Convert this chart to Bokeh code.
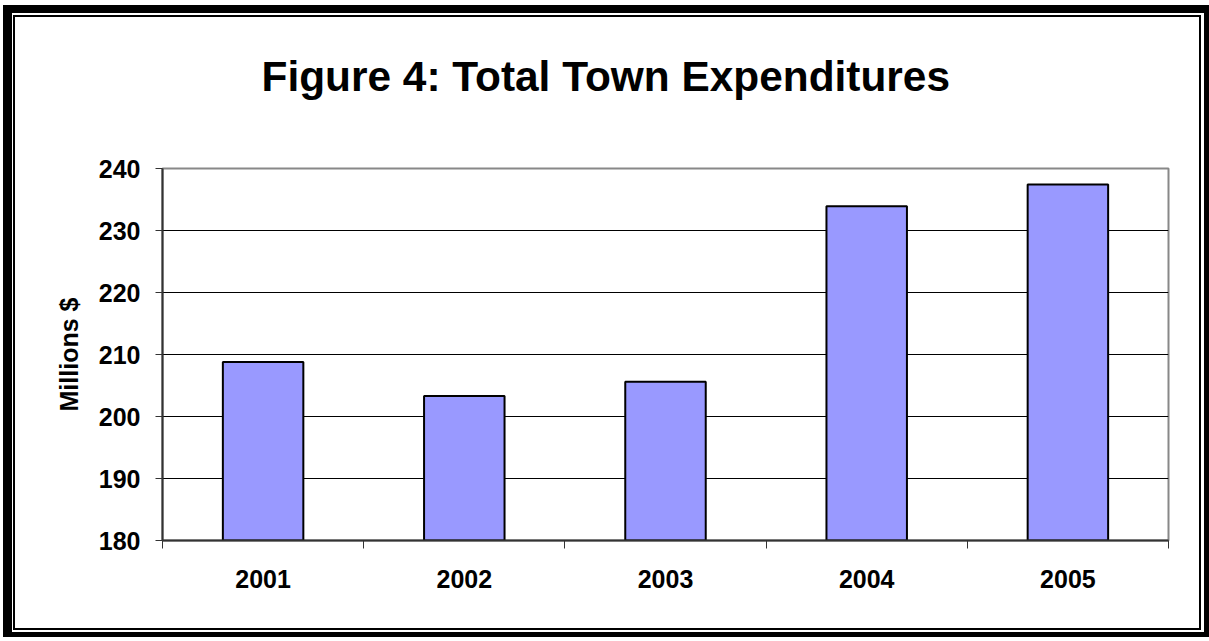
from bokeh.plotting import figure
from bokeh.models import Range1d, FixedTicker, Title
from bokeh.embed import file_html
from bokeh.resources import INLINE

years = ["2001", "2002", "2003", "2004", "2005"]
expenditures = [208.8, 203.3, 205.6, 233.9, 237.4]
y_ticks = [180, 190, 200, 210, 220, 230, 240]
grid_ticks = [190, 200, 210, 220, 230]

W, H = 1209, 641
FONT = "Liberation Sans"
FL, FR, FT, FB = 162, 1168, 168, 540  # frame in pixels
Y0, Y1 = 180, 240
N = len(years)

# page frame (thick outer + thin inner line), drawn as CSS background rects
frame_rects = [
    (3, 5, 9, 632), (3, 5, 1206, 8), (1204, 5, 5, 632), (3, 632, 1206, 5),
    (13, 15, 2, 615), (13, 15, 1188, 2), (1199, 15, 2, 615), (13, 628, 1188, 2),
]
bg = ", ".join(f"linear-gradient(#000, #000) {x}px {y}px / {w}px {h}px no-repeat"
               for x, y, w, h in frame_rects) + ", #ffffff"

p = figure(width=W, height=H, output_backend="svg", toolbar_location=None,
           x_range=Range1d(0, N), y_range=Range1d(Y0, Y1),
           min_border_left=FL, min_border_right=W - FR,
           min_border_top=FT, min_border_bottom=H - FB)
p.styles = {"background": bg}
p.background_fill_color = "white"
p.border_fill_color = None
p.outline_line_color = "#888888"
p.outline_line_width = 2

centers = [i + 0.5 for i in range(N)]
p.vbar(x=centers, top=expenditures, bottom=Y0, width=0.4,
       fill_color="#9999FF", line_color="black", line_width=2)

xa = p.xaxis[0]
xa.ticker = FixedTicker(ticks=centers, minor_ticks=list(range(N + 1)))
xa.major_label_overrides = {c: y for c, y in zip(centers, years)}
xa.major_tick_out = 0
xa.major_tick_in = 0
xa.minor_tick_out = 8
xa.minor_tick_in = 0
xa.minor_tick_line_color = "#333333"
xa.axis_line_color = "#333333"
xa.axis_line_width = 2
xa.major_label_standoff = 21
xa.major_label_text_font = FONT
xa.major_label_text_font_style = "bold"
xa.major_label_text_font_size = "25px"
xa.major_label_text_color = "black"

ya = p.yaxis[0]
ya.ticker = FixedTicker(ticks=y_ticks, minor_ticks=[])
ya.major_tick_out = 7
ya.major_tick_in = 0
ya.major_tick_line_color = "#333333"
ya.axis_line_color = "#333333"
ya.axis_line_width = 2
ya.major_label_standoff = 15
ya.major_label_text_font = FONT
ya.major_label_text_font_style = "bold"
ya.major_label_text_font_size = "25px"
ya.major_label_text_color = "black"
ya.axis_label = "Millions $"
ya.axis_label_text_font = FONT
ya.axis_label_text_font_style = "bold"
ya.axis_label_text_font_size = "25px"
ya.axis_label_text_color = "black"
ya.axis_label_standoff = 13

p.xgrid.visible = False
p.ygrid.ticker = FixedTicker(ticks=grid_ticks)
p.ygrid.grid_line_color = "black"
p.ygrid.grid_line_width = 1

t = Title(text="Figure 4: Total Town Expenditures\n ", align="left", offset=99,
          vertical_align="bottom",
          text_font=FONT, text_font_style="bold", text_font_size="42.4px",
          text_color="black", standoff=44)
p.add_layout(t, "above")

open("out.html", "w").write(file_html(p, INLINE))
